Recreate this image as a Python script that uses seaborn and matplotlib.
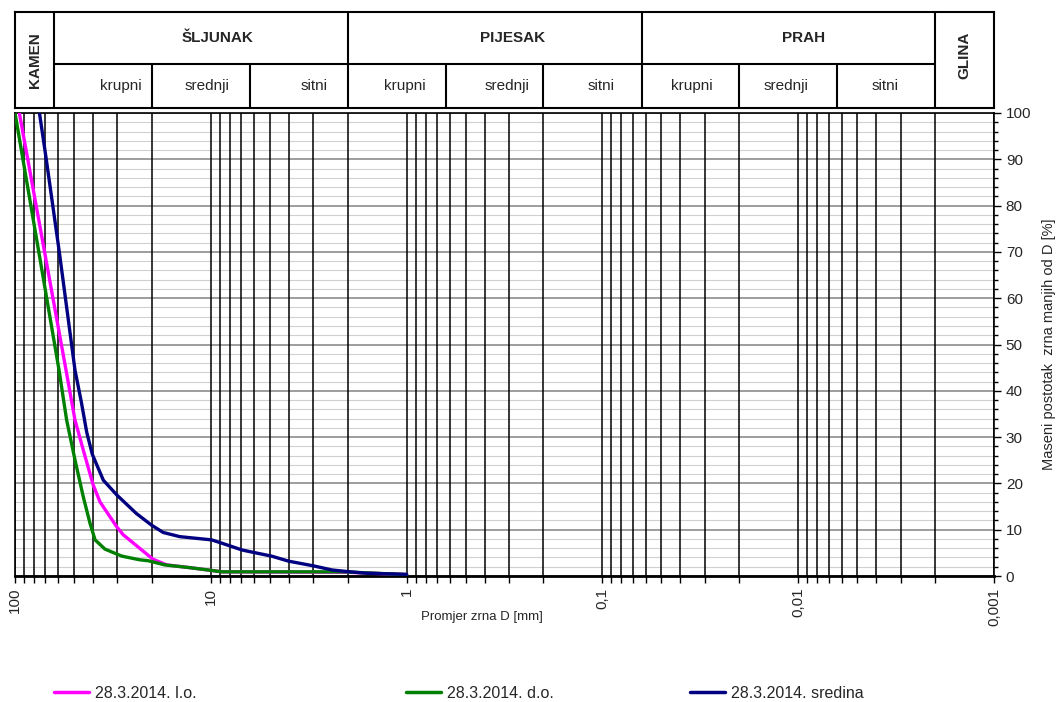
import numpy as np
import pandas as pd
import matplotlib.pyplot as plt
import seaborn as sns
from matplotlib.lines import Line2D
from matplotlib.ticker import LogLocator, MultipleLocator, NullFormatter

# granulometrijske krivulje - ocitano s dijagrama
D_lo = [95, 54.9, 49.4, 44.8, 39.9, 36.8, 30.2, 28.0, 23.1, 19.7, 16.8, 12.8, 9.9, 8.8, 2.0, 1.0]
P_lo = [100, 44.5, 33.7, 27.2, 19.7, 16.0, 10.6, 8.9, 6.0, 3.6, 2.4, 1.8, 1.2, 0.9, 0.8, 0.3]

D_do = [100, 59.6, 54.5, 49.4, 44.8, 41.4, 39.0, 34.7, 28.5, 23.1, 20.9, 17.2, 12.8, 9.9, 8.8, 2.1, 1.0]
P_do = [100, 44.5, 33.7, 25.1, 17.1, 11.4, 7.8, 5.8, 4.3, 3.5, 3.3, 2.4, 1.8, 1.2, 0.9, 0.9, 0.3]

D_sr = [75, 69.4, 59.4, 49.4, 45.8, 43.0, 40.3, 35.4, 30.2, 24.0, 20.1, 17.5, 14.4, 9.9, 8.8,
        6.9, 5.6, 4.9, 4.0, 3.0, 2.4, 1.98, 1.6, 1.0]
P_sr = [100, 90.3, 70, 44.5, 37.5, 31.0, 26.3, 20.7, 17.5, 13.5, 11.0, 9.4, 8.5, 7.8, 7.1,
        5.6, 4.8, 4.3, 3.2, 2.2, 1.3, 0.93, 0.6, 0.35]

names = ["28.3.2014. l.o.", "28.3.2014. d.o.", "28.3.2014. sredina"]
colors = ["#ff00ff", "#008000", "#000080"]

x_ticks = [100, 10, 1, 0.1, 0.01, 0.001]
x_ticklabels = ["100", "10", "1", "0,1", "0,01", "0,001"]

# granice frakcija [mm]
main_bounds = [63, 2, 0.063, 0.002]
sub_bounds = [20, 6.3, 0.63, 0.2, 0.02, 0.0063]
groups = ["ŠLJUNAK", "PIJESAK", "PRAH"]
subs = ["krupni", "srednji", "sitni"]

df = pd.concat([
    pd.DataFrame({"D": D_lo, "P": P_lo, "uzorak": names[0]}),
    pd.DataFrame({"D": D_do, "P": P_do, "uzorak": names[1]}),
    pd.DataFrame({"D": D_sr, "P": P_sr, "uzorak": names[2]}),
])

sns.set_style("white")
plt.rcParams["font.family"] = ["Liberation Sans", "DejaVu Sans"]

fig = plt.figure(figsize=(10.6, 7.02), dpi=100)
ax = fig.add_axes([15/1060, 1-576/702, 979/1060, 463/702])
hx = fig.add_axes([15/1060, 1-108/702, 979/1060, 96/702], sharex=ax)

sns.lineplot(data=df, x="D", y="P", hue="uzorak", hue_order=names, palette=colors,
             sort=False, estimator=None, linewidth=2.4, ax=ax, legend=False, zorder=5)

ax.set_xscale("log")
ax.set_xlim(100, 0.001)
ax.set_ylim(0, 100)

# mreza
ax.xaxis.set_major_locator(LogLocator(base=10))
ax.xaxis.set_minor_locator(LogLocator(base=10, subs=range(2, 10)))
ax.xaxis.set_minor_formatter(NullFormatter())
ax.yaxis.set_major_locator(MultipleLocator(10))
ax.yaxis.set_minor_locator(MultipleLocator(2))
ax.grid(which="minor", axis="y", color="#d0d0d0", lw=0.8)
ax.grid(which="major", axis="y", color="#8c8c8c", lw=1.2)
ax.grid(which="both", axis="x", color="black", lw=1.1)
ax.set_axisbelow(True)
ax.yaxis.set_zorder(0.4)
ax.xaxis.set_zorder(0.6)

ax.set_xticks(x_ticks)
ax.set_xticklabels(x_ticklabels, rotation=90, fontsize=11)
ax.tick_params(axis="x", which="both", bottom=True, direction="out", length=5, width=1, color="black")

ax.yaxis.tick_right()
ax.yaxis.set_label_position("right")
ax.tick_params(axis="y", which="major", right=True, left=False, length=5, width=1, color="black",
               labelsize=11, labelright=True, labelleft=False)
ax.tick_params(axis="y", which="minor", right=True, left=False, length=3, width=1, color="black")

for s in ax.spines.values():
    s.set_color("black")
    s.set_linewidth(1.2)
ax.spines["bottom"].set_linewidth(2)

ax.set_xlabel("Promjer zrna D [mm]", fontsize=9.5)
ax.xaxis.set_label_coords(0.477, -0.076)
ax.set_ylabel("Maseni postotak  zrna manjih od D [%]", fontsize=10.5)
ax.yaxis.set_label_coords(1.049, 0.5)

# zaglavlje s frakcijama
hx.set_ylim(0, 1)
hx.tick_params(which="both", bottom=False, labelbottom=False, left=False, labelleft=False)
hx.grid(False)
for s in hx.spines.values():
    s.set_color("black")
    s.set_linewidth(1.5)
split = 0.458
hx.vlines(main_bounds, 0, 1, color="black", lw=1.5)
hx.vlines(sub_bounds, 0, split, color="black", lw=1.5)
hx.plot([main_bounds[0], main_bounds[-1]], [split, split], color="black", lw=1.5)

hx.text(np.sqrt(100*63), 0.5, "KAMEN", rotation=90, ha="center", va="center", fontsize=11, fontweight="bold")
hx.text(np.sqrt(0.002*0.001), 0.55, "GLINA", rotation=90, ha="center", va="center", fontsize=11, fontweight="bold")

group_dx = [12, 13, 11]
sub_dx = [[13, 4, 11], [6, 9, 6], [1, -2, -1]]
for i, g in enumerate(groups):
    hi, lo = main_bounds[i], main_bounds[i+1]
    hx.annotate(g, xy=(np.sqrt(hi*lo), 0.73), xytext=(group_dx[i], 0), textcoords="offset points",
                ha="center", va="center", fontsize=11, fontweight="bold")
    edges = [hi, sub_bounds[2*i], sub_bounds[2*i+1], lo]
    for j, sname in enumerate(subs):
        hx.annotate(sname, xy=(np.sqrt(edges[j]*edges[j+1]), 0.23), xytext=(sub_dx[i][j], 0),
                    textcoords="offset points", ha="center", va="center", fontsize=11)

# legenda - tri odvojena unosa kao u Excelu
legend_x = [54, 406, 690]
for name, c, x0 in zip(names, colors, legend_x):
    fig.legend([Line2D([], [], color=c, lw=2.5)], [name], loc="center left",
               bbox_to_anchor=(x0/1060, 1-693/702), frameon=False, borderpad=0, borderaxespad=0,
               handlelength=2.2, handletextpad=0.35, fontsize=11.5)

fig.savefig("out.png", dpi=100)
